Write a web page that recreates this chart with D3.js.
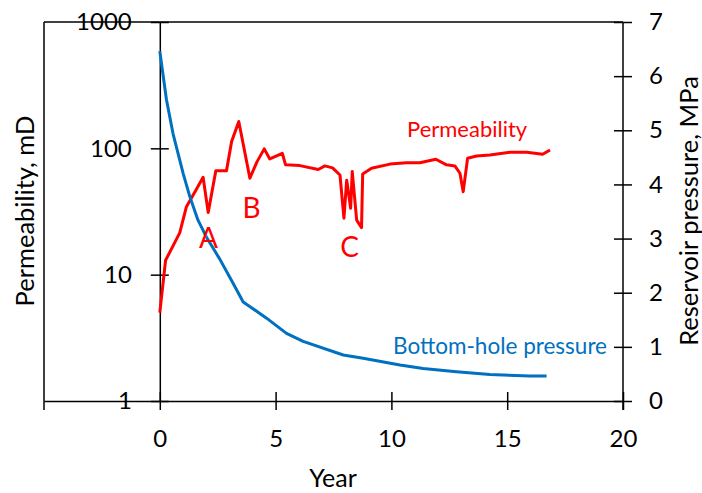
<!DOCTYPE html>
<html><head><meta charset="utf-8">
<script src="https://cdn.jsdelivr.net/npm/d3@7"></script>
<style>body{margin:0;background:#fff}svg{display:block}text{font-family:Lato,"Open Sans",sans-serif}</style>
</head><body>
<svg id="c" width="702" height="493"></svg>
<script>
const permYears = [0,0.25,0.86,1.15,1.52,1.87,2.09,2.42,2.88,3.1,3.41,3.89,4.2,4.51,4.75,5.29,5.43,6.05,6.84,7.13,7.46,7.78,7.95,8.07,8.24,8.31,8.5,8.71,8.76,9.14,9.94,10.65,11.23,11.92,12.38,12.74,12.96,13.1,13.29,13.68,14.25,15.12,15.84,16.53,16.85];
const permValues = [5,13,21.4,34.5,45.4,59,31,66.6,66.6,113,163,58,78.5,99,82.4,91.4,74,73,68,72.6,70,61.5,28,56,33.6,65.5,27,23.6,62.7,69.5,75,77,77,82,74,72.6,63.5,45.4,83.4,87,88.7,93,93,89.8,97];
const presYears = [0,0.29,0.57,1.01,1.3,1.65,2.01,2.59,3.17,3.6,4.61,5.47,6.19,7.92,8.78,10.37,11.37,12.81,14.25,15.98,16.7];
const presValues = [6.46,5.56,4.94,4.2,3.77,3.34,3.03,2.62,2.17,1.83,1.53,1.25,1.10,0.85,0.79,0.665,0.6,0.54,0.49,0.46,0.46];
const xTicks = [0,5,10,15,20];
const leftTicks = [1,10,100,1000];
const rightTicks = [0,1,2,3,4,5,6,7];
const eventLabels = ["A","B","C"];
const eventYears = [2.1,3.96,8.2];
const eventValues = [16.2,28,13.7];

const svg = d3.select("#c");
const x = d3.scaleLinear().domain([-5,20]).range([44,623]);
const yL = d3.scaleLog().domain([1,1000]).range([401,22]);
const yR = d3.scaleLinear().domain([0,7]).range([401,22]);
const black = "#000";

// frame lines
svg.append("line").attr("x1",44).attr("x2",623).attr("y1",22).attr("y2",22).attr("stroke",black).attr("stroke-width",1.5);
svg.append("line").attr("x1",44).attr("x2",44).attr("y1",22).attr("y2",410).attr("stroke",black).attr("stroke-width",1.5);

// bottom axis
const gx = svg.append("g").attr("transform","translate(0,401)")
  .call(d3.axisBottom(x).tickValues(xTicks).tickSize(9).tickSizeOuter(0).tickPadding(20).tickFormat(d3.format("d")));
gx.selectAll(".tick line").attr("y1",-9);
// left axis at x=0
const gl = svg.append("g").attr("transform",`translate(${x(0)},0)`)
  .call(d3.axisLeft(yL).tickValues(leftTicks).tickSize(9).tickSizeOuter(0).tickPadding(19).tickFormat(d3.format("d")));
gl.selectAll(".tick line").attr("x1",9);
// right axis
const gr = svg.append("g").attr("transform",`translate(${x(20)},0)`)
  .call(d3.axisRight(yR).tickValues(rightTicks).tickSize(9).tickSizeOuter(0).tickPadding(17).tickFormat(d3.format("d")));
gr.selectAll(".tick line").attr("x1",-9);
[gx,gl,gr].forEach(g=>{
  g.selectAll("path.domain").attr("stroke",black).attr("stroke-width",1.5);
  g.selectAll(".tick line").attr("stroke",black).attr("stroke-width",1.5);
  g.selectAll("text").attr("font-size",24).attr("font-family","Lato").attr("fill",black);
});
gr.select("path.domain").attr("d","M0,22V410");

// lines
const permLine = d3.line().x((d,i)=>x(permYears[i])).y(d=>yL(d));
svg.append("path").datum(permValues).attr("d",permLine).attr("fill","none").attr("stroke","#FF0000").attr("stroke-width",3).attr("stroke-linejoin","round");
const presLine = d3.line().x((d,i)=>x(presYears[i])).y(d=>yR(d));
svg.append("path").datum(presValues).attr("d",presLine).attr("fill","none").attr("stroke","#0070C0").attr("stroke-width",3).attr("stroke-linejoin","round");

// event labels
svg.selectAll("text.ev").data(eventLabels).join("text").attr("class","ev")
  .attr("x",(d,i)=>x(eventYears[i])).attr("y",(d,i)=>yL(eventValues[i]))
  .attr("text-anchor","middle").attr("font-size",28).attr("fill","#FF0000").text(d=>d);

// series labels
svg.append("text").attr("x",407).attr("y",137).attr("font-size",22).attr("fill","#FF0000").text("Permeability");
svg.append("text").attr("x",393).attr("y",354).attr("font-size",22.5).attr("fill","#0070C0").text("Bottom-hole pressure");

// axis titles
svg.append("text").attr("transform","translate(34,211) rotate(-90)").attr("text-anchor","middle").attr("font-size",25.5).attr("fill",black).text("Permeability, mD");
svg.append("text").attr("transform","translate(698,211) rotate(-90)").attr("text-anchor","middle").attr("font-size",25.5).attr("fill",black).text("Reservoir pressure, MPa");
svg.append("text").attr("x",333).attr("y",487).attr("text-anchor","middle").attr("font-size",25).attr("fill",black).text("Year");
</script>
</body></html>
